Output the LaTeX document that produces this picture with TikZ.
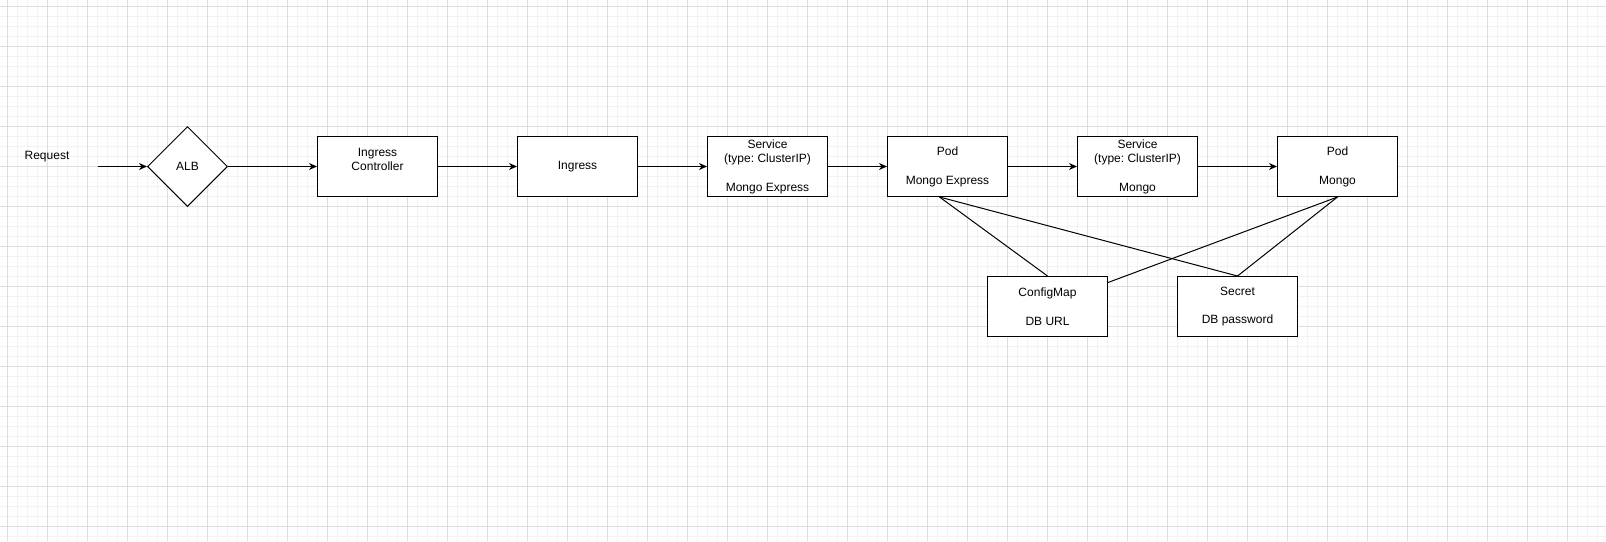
\documentclass[tikz,border=0pt]{standalone}
\usepackage{fontspec}
\setmainfont{Liberation Sans}
\frenchspacing
\usetikzlibrary{shapes.geometric,arrows.meta}
\definecolor{gridminor}{HTML}{F3F3F3}
\definecolor{gridmajor}{HTML}{DDDDDD}
\tikzset{
  box/.style={draw=black, line width=1pt, rectangle, minimum width=120pt, minimum height=60pt, inner sep=0pt, align=center, font=\fontsize{12}{14.4}\selectfont},
  dia/.style={draw=black, line width=1pt, diamond, minimum width=80pt, minimum height=80pt, inner sep=0pt, aspect=1, font=\fontsize{12}{14.4}\selectfont},
  lbl/.style={inner sep=0pt, align=center, font=\fontsize{12}{14.4}\selectfont},
  flow/.style={draw=black, line width=1pt, -{Stealth[length=8pt,width=7pt,inset=2.5pt]}},
  link/.style={draw=black, line width=1pt},
}
\begin{document}
\begin{tikzpicture}[x=1pt,y=-1pt]
\useasboundingbox (0,0) rectangle (1606,541);
\fill[white] (0,0) rectangle (1606,541);
% grid
\foreach \i in {0,...,159} \draw[gridminor, line width=1pt] ({7.5+10*\i},0) -- ({7.5+10*\i},541);
\foreach \j in {0,...,53} \draw[gridminor, line width=1pt] (0,{6+10*\j}) -- (1606,{6+10*\j});
\foreach \i in {0,...,39} \draw[gridmajor, line width=1pt] ({7.5+40*\i},0) -- ({7.5+40*\i},541);
\foreach \j in {0,...,13} \draw[gridmajor, line width=1pt] (0,{6+40*\j}) -- (1606,{6+40*\j});

% nodes
\node[lbl] (req) at (47,156.5) {Request};
\coordinate (reqend) at (97.5,166.5);
\node[dia, fill=white] (alb) at (187.5,166.5) {ALB};
\node[box, fill=white] (ic) at (377.5,166.5) {Ingress\\Controller\\\mbox{}};
\node[box, fill=white] (ing) at (577.5,166.5) {Ingress};
\node[box, fill=white] (svcme) at (767.5,166.5) {Service\\(type: ClusterIP)\\\mbox{}\\Mongo Express};
\node[box, fill=white] (podme) at (947.5,166.5) {Pod\\\mbox{}\\Mongo Express};
\node[box, fill=white] (svcm) at (1137.5,166.5) {Service\\(type: ClusterIP)\\\mbox{}\\Mongo};
\node[box, fill=white] (podm) at (1337.5,166.5) {Pod\\\mbox{}\\Mongo};
\node[box, fill=white] (cm) at (1047.5,306.5) {ConfigMap\\\mbox{}\\DB URL};
\node[box, fill=white] (sec) at (1237.5,306.5) {Secret\\\mbox{}\\DB password};

% flow arrows
\draw[flow] (reqend) -- (alb.west);
\draw[flow] (alb.east) -- (ic.west);
\draw[flow] (ic.east) -- (ing.west);
\draw[flow] (ing.east) -- (svcme.west);
\draw[flow] (svcme.east) -- (podme.west);
\draw[flow] (podme.east) -- (svcm.west);
\draw[flow] (svcm.east) -- (podm.west);

% links
\draw[link] ([xshift=-8pt]podme.south) -- (cm.north);
\draw[link] ([xshift=-8pt]podme.south) -- (sec.north);
\draw[link] (podm.south) -- ([yshift=-6.5pt]cm.north east);
\draw[link] (podm.south) -- (sec.north);
\end{tikzpicture}
\end{document}
